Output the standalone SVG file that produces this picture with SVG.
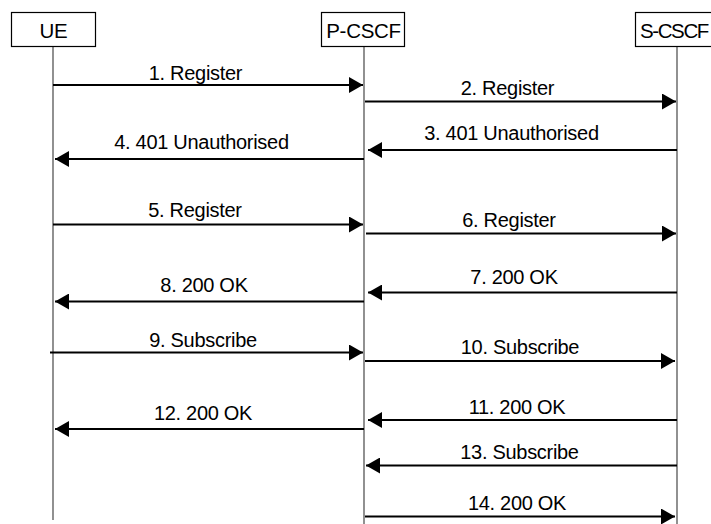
<svg xmlns="http://www.w3.org/2000/svg" width="711" height="524" viewBox="0 0 711 524">
<style>
.box{fill:#fff;stroke:#000;stroke-width:1.2}
.life{stroke:#555;stroke-width:1.3}
.msg{stroke:#000;stroke-width:2;fill:none;marker-end:url(#ah)}
.lbl{font-family:"Liberation Sans",Arial,sans-serif;font-size:20px;letter-spacing:-0.3px;fill:#000;text-anchor:middle}
.hdr{font-family:"Liberation Sans",Arial,sans-serif;font-size:20.5px;letter-spacing:-0.3px;fill:#000;text-anchor:middle}
</style>
<defs>
<marker id="ah" markerUnits="userSpaceOnUse" markerWidth="14" markerHeight="16" refX="14" refY="8" orient="auto" viewBox="0 0 14 16">
<path d="M0,0 L14,8 L0,16 z" fill="#000"/>
</marker>
</defs>
<rect width="711" height="524" fill="#fff"/>
<g id="UE">
<line class="life" x1="53" y1="46" x2="53" y2="520"/>
<rect class="box" x="11.5" y="12.5" width="84" height="34"/>
<text class="hdr" x="53.5" y="37.5">UE</text>
</g>
<g id="P-CSCF">
<line class="life" x1="364" y1="46" x2="364" y2="524"/>
<rect class="box" x="321.5" y="12.5" width="83" height="34"/>
<text class="hdr" x="363.5" y="37.5">P-CSCF</text>
</g>
<g id="S-CSCF">
<line class="life" x1="677" y1="46" x2="677" y2="524"/>
<rect class="box" x="635.5" y="12.5" width="90" height="34"/>
<text class="hdr" x="640" y="37.5" style="text-anchor:start;letter-spacing:-1.4px">S-CSCF</text>
</g>
<g id="connectors">
<line class="msg" x1="53" y1="85" x2="363" y2="85"/>
<text class="lbl" x="195.5" y="79.5">1. Register</text>
<line class="msg" x1="365" y1="101.5" x2="676" y2="101.5"/>
<text class="lbl" x="507.5" y="95">2. Register</text>
<line class="msg" x1="677" y1="150" x2="368" y2="150"/>
<text class="lbl" x="511.5" y="140">3. 401 Unauthorised</text>
<line class="msg" x1="364" y1="159" x2="55" y2="159"/>
<text class="lbl" x="201.5" y="149">4. 401 Unauthorised</text>
<line class="msg" x1="53" y1="224.5" x2="363" y2="224.5"/>
<text class="lbl" x="195" y="217">5. Register</text>
<line class="msg" x1="366" y1="233.5" x2="676" y2="233.5"/>
<text class="lbl" x="509" y="226.5">6. Register</text>
<line class="msg" x1="677" y1="292.5" x2="368" y2="292.5"/>
<text class="lbl" x="514" y="283.5">7. 200 OK</text>
<line class="msg" x1="364" y1="301.5" x2="55" y2="301.5"/>
<text class="lbl" x="204" y="292">8. 200 OK</text>
<line class="msg" x1="50" y1="352.5" x2="363" y2="352.5"/>
<text class="lbl" x="203" y="346.5">9. Subscribe</text>
<line class="msg" x1="365" y1="361" x2="675" y2="361"/>
<text class="lbl" x="520" y="353.5">10. Subscribe</text>
<line class="msg" x1="677" y1="420" x2="368" y2="420"/>
<text class="lbl" x="517" y="413.5">11. 200 OK</text>
<line class="msg" x1="364" y1="429" x2="55" y2="429"/>
<text class="lbl" x="203" y="420">12. 200 OK</text>
<line class="msg" x1="677" y1="465.5" x2="366" y2="465.5"/>
<text class="lbl" x="519.5" y="459">13. Subscribe</text>
<line class="msg" x1="365" y1="516.5" x2="675" y2="516.5"/>
<text class="lbl" x="517" y="510">14. 200 OK</text>
</g>
</svg>
